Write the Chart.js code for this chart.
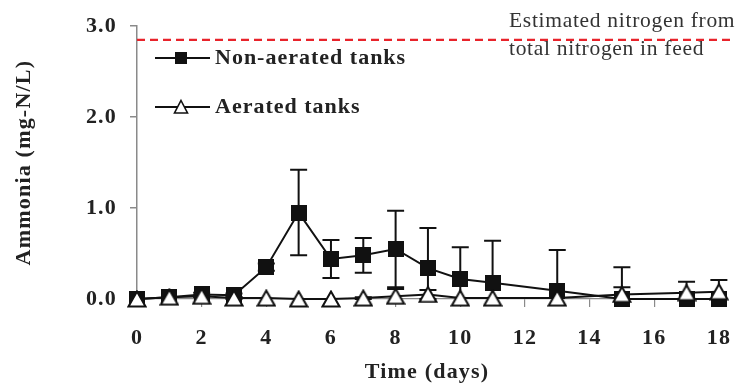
<!DOCTYPE html>
<html>
<head>
<meta charset="utf-8">
<script src="https://cdn.jsdelivr.net/npm/chart.js@4/dist/chart.umd.min.js"></script>
<style>
  html, body { margin: 0; padding: 0; background: #fff; }
  #wrap { position: relative; width: 748px; height: 389px; }
</style>
</head>
<body>
<div id="wrap"><canvas id="chart" width="748" height="389"></canvas></div>
<script>
// Sampling days
const days = [0, 1, 2, 3, 4, 5, 6, 7, 8, 9, 10, 11, 13, 15, 17, 18];

// Ammonia (mg-N/L), mean and standard deviation
const nonAerated    = [0.00, 0.02, 0.05, 0.04, 0.35, 0.95, 0.44, 0.48, 0.55, 0.34, 0.22, 0.18, 0.09, 0.00, 0.00, 0.00];
const nonAeratedErr = [0.00, 0.00, 0.02, 0.02, 0.04, 0.47, 0.21, 0.19, 0.42, 0.44, 0.35, 0.46, 0.45, 0.35, 0.00, 0.00];
const aerated       = [0.00, 0.02, 0.03, 0.01, 0.01, 0.00, 0.00, 0.01, 0.03, 0.05, 0.01, 0.01, 0.01, 0.05, 0.07, 0.08];
const aeratedErr    = [0.00, 0.00, 0.01, 0.01, 0.00, 0.00, 0.00, 0.01, 0.08, 0.05, 0.00, 0.00, 0.00, 0.08, 0.12, 0.13];

// Nitrogen level expected from the total nitrogen supplied in feed
const feedNitrogen = 2.85;
const feedLineX = [0, 18.45];

// Axis ticks
const xTicks = [0, 2, 4, 6, 8, 10, 12, 14, 16, 18];
const yTicks = [0, 1, 2, 3];

const seriesNames = ['Non-aerated tanks', 'Aerated tanks'];
const noteLines = ['Estimated nitrogen from', 'total nitrogen in feed'];
const xTitle = 'Time (days)';
const yTitle = 'Ammonia (mg-N/L)';

const SERIF = "'Liberation Serif', 'Times New Roman', serif";
const INK = '#222';
const AXIS = '#8a8a8a';

// Marker bitmaps
function squareMarker(size) {
  const c = document.createElement('canvas');
  c.width = size; c.height = size;
  const g = c.getContext('2d');
  g.fillStyle = '#111';
  g.fillRect(0, 0, size, size);
  return c;
}
function triangleMarker(w, h) {
  const c = document.createElement('canvas');
  c.width = w; c.height = h;
  const g = c.getContext('2d');
  g.beginPath();
  g.moveTo(w / 2, 1.5);
  g.lineTo(w - 1.5, h - 1.5);
  g.lineTo(1.5, h - 1.5);
  g.closePath();
  g.fillStyle = '#fff';
  g.fill();
  g.lineWidth = 2;
  g.strokeStyle = '#111';
  g.lineJoin = 'miter';
  g.stroke();
  return c;
}
const squareImg = squareMarker(16);
const triangleImg = triangleMarker(20, 18);

const toPoints = (vals) => days.map((d, i) => ({ x: d, y: vals[i] }));

// Vertical error bars with caps
const errorBars = {
  id: 'errorBars',
  beforeDatasetsDraw(chart) {
    const { ctx, scales: { x, y } } = chart;
    const sets = [[nonAerated, nonAeratedErr], [aerated, aeratedErr]];
    ctx.save();
    ctx.strokeStyle = '#111';
    ctx.lineWidth = 2;
    const cap = 8.5;
    sets.forEach(([vals, errs]) => {
      vals.forEach((v, i) => {
        const e = errs[i];
        if (!e) return;
        const px = x.getPixelForValue(days[i]);
        const top = y.getPixelForValue(v + e);
        const lowVal = v - e;
        const bot = y.getPixelForValue(Math.max(lowVal, 0));
        ctx.beginPath();
        ctx.moveTo(px, top); ctx.lineTo(px, bot);
        ctx.moveTo(px - cap, top); ctx.lineTo(px + cap, top);
        if (lowVal >= 0) { ctx.moveTo(px - cap, bot); ctx.lineTo(px + cap, bot); }
        ctx.stroke();
      });
    });
    ctx.restore();
  }
};

// Text spacing used for the bold labels
const textSpacing = {
  id: 'textSpacing',
  beforeDraw(chart) { chart.ctx.letterSpacing = '1.2px'; }
};

// Legend, note and x-axis title
const decorations = {
  id: 'decorations',
  afterDraw(chart) {
    const { ctx } = chart;
    ctx.save();

    // x-axis title
    ctx.letterSpacing = '1.2px';
    ctx.fillStyle = INK;
    ctx.font = 'bold 22px ' + SERIF;
    ctx.textAlign = 'center';
    ctx.textBaseline = 'middle';
    ctx.fillText(xTitle, 427, 372);

    // legend
    ctx.letterSpacing = '1px';
    ctx.textAlign = 'left';
    const rows = [58, 107];
    rows.forEach((ry, i) => {
      ctx.strokeStyle = '#111';
      ctx.lineWidth = 2;
      ctx.beginPath();
      ctx.moveTo(155, ry); ctx.lineTo(210, ry);
      ctx.stroke();
      if (i === 0) {
        ctx.fillStyle = '#111';
        ctx.fillRect(175, ry - 6, 12, 12);
      } else {
        ctx.beginPath();
        ctx.moveTo(181, ry - 6.5);
        ctx.lineTo(187.5, ry + 6);
        ctx.lineTo(174.5, ry + 6);
        ctx.closePath();
        ctx.fillStyle = '#fff';
        ctx.fill();
        ctx.lineWidth = 1.6;
        ctx.stroke();
      }
      ctx.fillStyle = INK;
      ctx.fillText(seriesNames[i], 215, ry);
    });

    // note beside the feed nitrogen line
    ctx.letterSpacing = '0.7px';
    ctx.font = '21.5px ' + SERIF;
    ctx.fillStyle = '#333';
    ctx.textBaseline = 'alphabetic';
    ctx.fillText(noteLines[0], 509, 27);
    ctx.fillText(noteLines[1], 509, 55);
    ctx.restore();
  }
};

new Chart(document.getElementById('chart'), {
  type: 'line',
  data: {
    datasets: [
      {
        label: seriesNames[1],
        data: toPoints(aerated),
        borderColor: '#111',
        borderWidth: 2,
        pointStyle: triangleImg,
        pointRadius: 9,
        clip: false,
        tension: 0
      },
      {
        label: seriesNames[0],
        data: toPoints(nonAerated),
        borderColor: '#111',
        borderWidth: 2,
        pointStyle: squareImg,
        pointRadius: 8,
        clip: false,
        tension: 0
      },
      {
        label: 'Feed nitrogen',
        data: feedLineX.map(v => ({ x: v, y: feedNitrogen })),
        borderColor: '#e8232b',
        borderWidth: 2.2,
        borderDash: [8, 5],
        pointRadius: 0,
        clip: false
      }
    ]
  },
  options: {
    responsive: false,
    animation: false,
    events: [],
    layout: { padding: { top: 26, right: 8, left: 0, bottom: 0 } },
    plugins: {
      legend: { display: false },
      tooltip: { enabled: false }
    },
    scales: {
      x: {
        type: 'linear',
        min: 0,
        max: 18.2,
        afterBuildTicks(scale) { scale.ticks = xTicks.map(v => ({ value: v })); },
        afterFit(scale) { scale.height = 90; },
        grid: { display: true, drawOnChartArea: false, drawTicks: true, tickLength: 8, color: AXIS, lineWidth: 1.2 },
        border: { display: true, color: AXIS, width: 1.2 },
        ticks: {
          color: INK,
          font: { family: SERIF, size: 22, weight: 'bold' },
          padding: 18,
          maxRotation: 0,
          autoSkip: false
        }
      },
      y: {
        min: 0,
        max: 3,
        afterBuildTicks(scale) { scale.ticks = yTicks.map(v => ({ value: v })); },
        afterFit(scale) { scale.width = 137; },
        grid: { display: true, drawOnChartArea: false, drawTicks: true, tickLength: 7, color: AXIS, lineWidth: 1.5 },
        border: { display: true, color: AXIS, width: 1.5 },
        ticks: {
          color: INK,
          font: { family: SERIF, size: 22, weight: 'bold' },
          padding: 13,
          callback: v => v.toFixed(1)
        },
        title: {
          display: true,
          text: yTitle,
          color: INK,
          font: { family: SERIF, size: 22, weight: 'bold' },
          padding: { top: 11, bottom: 0 }
        }
      }
    }
  },
  plugins: [textSpacing, errorBars, decorations]
});
</script>
</body>
</html>
